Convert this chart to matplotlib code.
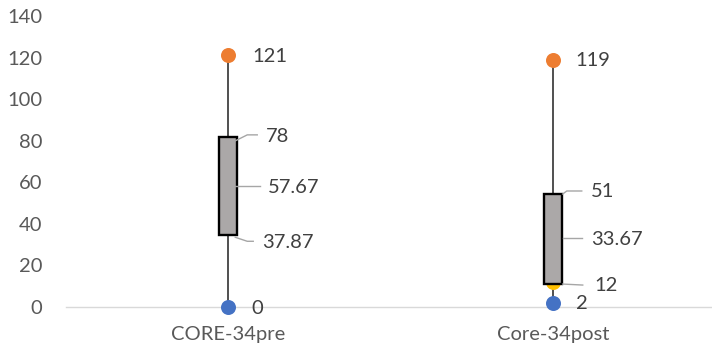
import matplotlib
matplotlib.use("Agg")
import matplotlib.pyplot as plt

plt.rcParams['font.family'] = ['Lato', 'DejaVu Sans']

categories = ["CORE-34pre", "Core-34post"]
min_vals = [0, 2]
max_vals = [121, 119]
q1_vals = [37.87, 12]
median_vals = [57.67, 33.67]
q3_vals = [78, 51]
box_low = [34.6, 11.1]
box_high = [81.8, 54.2]
label_text = [["121", "78", "57.67", "37.87", "0"],
              ["119", "51", "33.67", "12", "2"]]
yticks = [0, 20, 40, 60, 80, 100, 120, 140]

W, H = 712, 354
fig = plt.figure(figsize=(W / 100, H / 100), dpi=100)
ax_l, ax_b, ax_w, ax_h = 66, 47, 649, 291
ax = fig.add_axes([ax_l / W, ax_b / H, ax_w / W, ax_h / H])
ax.set_xlim(-0.5, 1.5)
ax.set_ylim(0, 140)

px_x = 2.0 / ax_w      # data units per pixel (x)
px_y = 140.0 / ax_h    # data units per pixel (y)

def off(x, y, dx, dy):
    """shift data point by pixel offset (dx right, dy down)"""
    return x + dx * px_x, y - dy * px_y

xs = list(range(len(categories)))
box_w = 18 * px_x
FS = 14.5

for i in xs:
    ax.plot([i, i], [min_vals[i], max_vals[i]], color="#505050", lw=1.4, zorder=2,
            solid_capstyle="butt")
    ax.plot(i, q3_vals[i], 'o', color="#4472C4", ms=10.8, mec='none', zorder=3)
    ax.plot(i, median_vals[i], 'o', color="#A5A5A5", ms=10.8, mec='none', zorder=3)
    ax.plot(i, q1_vals[i], 'o', color="#FFC000", ms=10.8, mec='none', zorder=3)
    ax.bar(i, box_high[i] - box_low[i], bottom=box_low[i], width=box_w,
           color="#ABA8A8", edgecolor="black", linewidth=1.7, zorder=4)
    ax.plot(i, max_vals[i], 'o', color="#ED7D31", ms=10.8, mec='none', zorder=5)
    ax.plot(i, min_vals[i], 'o', color="#4472C4", ms=10.8, mec='none', zorder=5, clip_on=False)

layouts = [
    [(24, 1, None),
     (38, -8, [(7, -4), (19, -10), (29, -10)]),
     (40, 0, [(7, -1), (32, -1)]),
     (34, 14, [(7, 9), (19, 13), (25, 13)]),
     (23, 1, None)],
    [(23, 1, None),
     (38, -9, [(10, -7), (14, -10), (29, -10)]),
     (38, 2, [(10, 1), (29, 1)]),
     (42, 3, [(10, 2), (30, 3)]),
     (23, 1, None)],
]

for i in xs:
    vals = [max_vals[i], q3_vals[i], median_vals[i], q1_vals[i], min_vals[i]]
    for k, v in enumerate(vals):
        dx, dy, leader = layouts[i][k]
        tx, ty = off(i, v, dx, dy)
        ax.text(tx, ty, label_text[i][k], ha="left", va="center", fontsize=FS,
                color="#404040", zorder=6)
        if leader:
            pts = [off(i, v, a, b) for a, b in leader]
            ax.plot([p[0] for p in pts], [p[1] for p in pts], color="#A6A6A6",
                    lw=1.0, zorder=6)

for s in ["top", "right", "left"]:
    ax.spines[s].set_visible(False)
ax.spines["bottom"].set_color("#D9D9D9")
ax.spines["bottom"].set_linewidth(1.0)
ax.spines["bottom"].set_zorder(1)

ax.set_yticks(yticks)
ax.set_yticklabels([str(t) for t in yticks])
ax.set_xticks(xs)
ax.set_xticklabels(categories)
ax.tick_params(axis="y", length=0, pad=17, labelsize=FS, labelcolor="#595959")
ax.tick_params(axis="x", length=0, pad=14, labelsize=FS, labelcolor="#595959")

fig.savefig("out.png", dpi=100)
